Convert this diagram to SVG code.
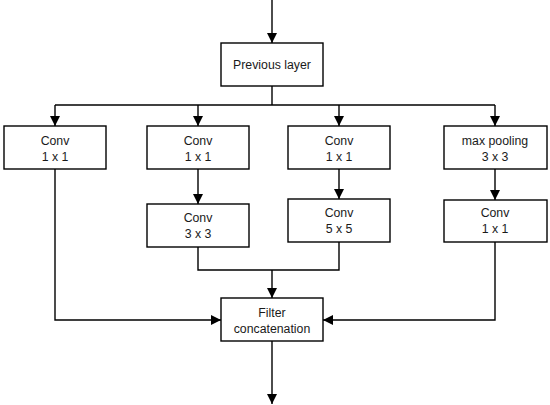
<svg xmlns="http://www.w3.org/2000/svg" width="550" height="405" viewBox="0 0 550 405">
<style>
.box{fill:#fff;stroke:#000;stroke-width:1.4}
.ln{fill:none;stroke:#000;stroke-width:1.4}
text{font-family:"Liberation Sans",Arial,sans-serif;font-size:12.3px;fill:#1a1a1a;text-anchor:middle}
</style>
<defs>
<marker id="ah" viewBox="0 0 10 10" refX="10" refY="5" markerWidth="10" markerHeight="10" markerUnits="userSpaceOnUse" orient="auto">
<path d="M0,0 L10,5 L0,10 z" fill="#000"/>
</marker>
</defs>
<g id="connectors">
<line class="ln" x1="272" y1="0" x2="272" y2="43" marker-end="url(#ah)"/>
<line class="ln" x1="272" y1="86" x2="272" y2="105"/>
<line class="ln" x1="55" y1="105" x2="495" y2="105"/>
<line class="ln" x1="55" y1="105" x2="55" y2="126" marker-end="url(#ah)"/>
<line class="ln" x1="198" y1="105" x2="198" y2="126" marker-end="url(#ah)"/>
<line class="ln" x1="339" y1="105" x2="339" y2="126" marker-end="url(#ah)"/>
<line class="ln" x1="495" y1="105" x2="495" y2="126" marker-end="url(#ah)"/>
<line class="ln" x1="198" y1="169" x2="198" y2="204" marker-end="url(#ah)"/>
<line class="ln" x1="339" y1="169" x2="339" y2="199" marker-end="url(#ah)"/>
<line class="ln" x1="495" y1="169" x2="495" y2="200" marker-end="url(#ah)"/>
<polyline class="ln" points="198,247 198,270 339,270 339,242"/>
<line class="ln" x1="272" y1="270" x2="272" y2="298" marker-end="url(#ah)"/>
<polyline class="ln" points="55,169 55,320 221,320" marker-end="url(#ah)"/>
<polyline class="ln" points="495,242 495,320 323,320" marker-end="url(#ah)"/>
<line class="ln" x1="272" y1="341" x2="272" y2="404" marker-end="url(#ah)"/>
</g>
<g id="prev">
<rect class="box" x="221" y="43" width="102" height="43"/>
<text x="272" y="69">Previous layer</text>
</g>
<g id="conv1">
<rect class="box" x="4" y="126" width="102" height="43"/>
<text x="55" y="145">Conv</text>
<text x="55" y="161">1 x 1</text>
</g>
<g id="conv2">
<rect class="box" x="147" y="126" width="102" height="43"/>
<text x="198" y="145">Conv</text>
<text x="198" y="161">1 x 1</text>
</g>
<g id="conv3">
<rect class="box" x="288" y="126" width="102" height="43"/>
<text x="339" y="145">Conv</text>
<text x="339" y="161">1 x 1</text>
</g>
<g id="pool">
<rect class="box" x="444" y="126" width="103" height="43"/>
<text x="495" y="145">max pooling</text>
<text x="495" y="161">3 x 3</text>
</g>
<g id="conv3x3">
<rect class="box" x="147" y="204" width="102" height="43"/>
<text x="198" y="222">Conv</text>
<text x="198" y="238">3 x 3</text>
</g>
<g id="conv5x5">
<rect class="box" x="288" y="199" width="102" height="43"/>
<text x="339" y="217">Conv</text>
<text x="339" y="233">5 x 5</text>
</g>
<g id="conv1b">
<rect class="box" x="444" y="200" width="103" height="42"/>
<text x="495" y="217">Conv</text>
<text x="495" y="233">1 x 1</text>
</g>
<g id="concat">
<rect class="box" x="221" y="298" width="102" height="43"/>
<text x="272" y="317">Filter</text>
<text x="272" y="333">concatenation</text>
</g>
</svg>
